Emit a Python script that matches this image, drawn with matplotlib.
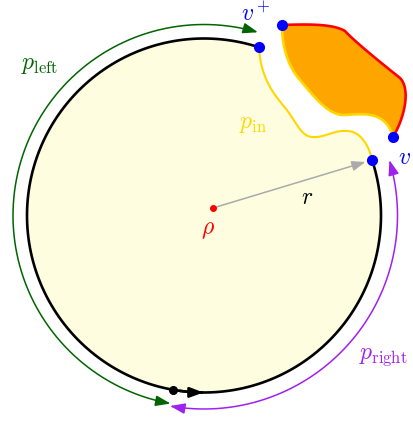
import numpy as np
import matplotlib.pyplot as plt
from matplotlib.patches import FancyArrowPatch, Polygon
from matplotlib.path import Path

plt.rcParams['mathtext.fontset'] = 'cm'

# geometry in picture pixels (y grows downwards)
center = (204.0, 215.5)
radius = 177.0
rho = (213.0, 208.0)
arc_from, arc_to = 71.9, 378.3          # black boundary, degrees
left_arc = (191.0, 73.6, 259.9)         # radius, start, end
right_arc = (193.5, -100.1, 16.6)
marker_angle, tick_angles = 259.8, (262.0, 269.8)

# cubic bezier pieces (start, ctrl, ctrl, end)
p_in = [
    [(259, 47), (260, 70), (268, 88), (283, 105)],
    [(283, 105), (295, 119), (300, 136), (312, 137)],
    [(312, 137), (325, 138), (333, 130), (347, 131)],
    [(347, 131), (360, 131), (369, 145), (372, 160)],
]
red_edge = [
    [(282, 25), (310, 24), (333, 24), (345, 31)],
    [(345, 31), (355, 42), (385, 66), (400, 78)],
    [(400, 78), (410, 88), (406, 115), (393, 137)],
]
gold_edge = [
    [(282, 25), (282, 45), (287, 65), (300, 80)],
    [(300, 80), (313, 95), (328, 116), (345, 115)],
    [(345, 115), (362, 114), (386, 110), (393, 137)],
]
blue_pts = [(259, 47), (372, 160), (282, 25), (393, 137)]

labels = [
    (r'$v^+$', 256, 14, 'blue'),
    (r'$p_{\rm left}$', 39, 64, '#006400'),
    (r'$p_{\rm in}$', 253, 123, '#ffd700'),
    (r'$p_{\rm right}$', 383, 356, '#a020f0'),
    (r'$\rho$', 208, 229, 'red'),
    (r'$r$', 307, 197, 'black'),
]


def arc_pts(r, a0, a1, n=200):
    t = np.radians(np.linspace(a0, a1, n))
    return np.column_stack([center[0] + r * np.cos(t), center[1] - r * np.sin(t)])


def bez(segs, n=40):
    t = np.linspace(0, 1, n)[:, None]
    out = []
    for s in segs:
        p0, p1, p2, p3 = [np.array(p, float) for p in s]
        out.append((1-t)**3*p0 + 3*(1-t)**2*t*p1 + 3*(1-t)*t**2*p2 + t**3*p3)
    return np.vstack(out)


fig = plt.figure(figsize=(4.14, 4.22), dpi=100)
ax = fig.add_axes([0, 0, 1, 1])
ax.set_xlim(0, 414)
ax.set_ylim(422, 0)
ax.axis('off')

# region inside circle
black = arc_pts(radius, arc_from, arc_to)
inner = bez(p_in)
ax.add_patch(Polygon(np.vstack([black, inner[::-1]]), closed=True,
                     facecolor='#fffde0', edgecolor='none', zorder=1))
ax.plot(black[:, 0], black[:, 1], color='black', lw=1.9, zorder=3)
ax.plot(inner[:, 0], inner[:, 1], color='#ffd700', lw=1.5, zorder=3)

# orange obstacle
top = bez(red_edge)
bot = bez(gold_edge)
ax.add_patch(Polygon(np.vstack([top, bot[::-1]]), closed=True,
                     facecolor='#ffa500', edgecolor='none', zorder=2))
ax.plot(bot[:, 0], bot[:, 1], color='#ffd700', lw=1.9, zorder=3)
ax.plot(top[:, 0], top[:, 1], color='red', lw=1.9, zorder=3)

# outer arcs with arrows
for (r, a0, a1), col in [(left_arc, '#006400'), (right_arc, '#a020f0')]:
    pts = arc_pts(r, a0, a1)
    ax.add_patch(FancyArrowPatch(path=Path(pts), arrowstyle='<|-|>,head_length=0.9,head_width=0.32',
                                 mutation_scale=10, color=col, lw=1.1, zorder=3,
                                 shrinkA=0, shrinkB=0))

# direction marker on the circle
m = arc_pts(radius, marker_angle, marker_angle, 1)[0]
ax.plot(m[0], m[1], 'o', color='black', ms=5.5, zorder=4)
tk = arc_pts(radius, tick_angles[0], tick_angles[1], 20)
ax.add_patch(FancyArrowPatch(path=Path(tk), arrowstyle='-|>,head_length=0.8,head_width=0.3',
                             mutation_scale=10, color='black', lw=1.9, zorder=4,
                             shrinkA=0, shrinkB=0))

# radius arrow
ax.annotate('', xy=blue_pts[1], xytext=rho,
            arrowprops=dict(arrowstyle='-|>,head_length=0.8,head_width=0.3', color='#aaaaaa',
                            lw=1.1, shrinkA=2, shrinkB=5, mutation_scale=10), zorder=3)
ax.plot(*rho, 'o', color='red', ms=4, zorder=5)

for x, y in blue_pts:
    ax.plot(x, y, 'o', color='blue', ms=7, zorder=6)

for txt, x, y, col in labels:
    ax.text(x, y, txt, color=col, fontsize=17, ha='center', va='center', zorder=7)
ax.text(398, 158, r'$v^-$', color='blue', fontsize=17, ha='left', va='center', zorder=7)

fig.savefig('out.png', dpi=100)
